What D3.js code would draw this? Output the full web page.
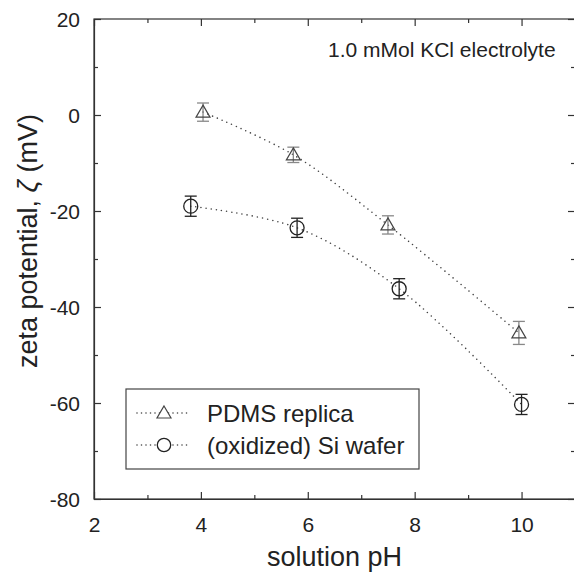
<!DOCTYPE html>
<html>
<head>
<meta charset="utf-8">
<script src="https://cdn.jsdelivr.net/npm/d3@7"></script>
<style>
  body { margin: 0; background: #fff; }
  svg { display: block; font-family: "Liberation Sans", Arial, sans-serif; }
  .axis path, .axis line { stroke: #333; stroke-width: 1.2; }
  .axis text { fill: #222; font-size: 21px; }
</style>
</head>
<body>
<div id="chart"></div>
<script>
// data
const phPdms   = [4.04, 5.73, 7.50, 9.95];
const zetaPdms = [0.6, -8.3, -22.9, -45.4];
const errPdms  = [1.9, 1.6, 1.9, 2.4];

const phSi   = [3.81, 5.80, 7.71, 10.0];
const zetaSi = [-19.0, -23.5, -36.2, -60.3];
const errSi  = [2.1, 2.0, 2.1, 2.1];

const xMajor = [2, 4, 6, 8, 10];
const xMinor = [3, 5, 7, 9, 11];
const yMajor = [-80, -60, -40, -20, 0, 20];
const yMinor = [-70, -50, -30, -10, 10];

const seriesNames = ["PDMS replica", "(oxidized) Si wafer"];
const note = "1.0 mMol KCl electrolyte";

const W = 574, H = 579;
const mLeft = 94, mRight = 575, mTop = 19, mBottom = 499;

var svg = d3.select("#chart").append("svg")
  .attr("width", W).attr("height", H);

var xScale = d3.scaleLinear().domain([2, 11]).range([mLeft, mRight]);
var yScale = d3.scaleLinear().domain([-80, 20]).range([mBottom, mTop]);

// axes, ticks point inward
function addAxis(axisFn, scale, ticks, size, tx, ty, labels) {
  var g = svg.append("g")
    .attr("class", "axis")
    .attr("transform", `translate(${tx},${ty})`)
    .call(axisFn(scale).tickValues(ticks).tickSizeInner(-size).tickSizeOuter(0)
      .tickPadding(labels ? 12 : 0)
      .tickFormat(labels ? (d => String(d)) : ""));   // plain hyphen minus
  if (!labels) g.select(".domain").remove();
  return g;
}
var xAx = addAxis(d3.axisBottom, xScale, xMajor, 7, 0, mBottom, true);
addAxis(d3.axisBottom, xScale, xMinor, 4, 0, mBottom, false);
addAxis(d3.axisTop, xScale, xMajor, 7, 0, mTop, false);
addAxis(d3.axisTop, xScale, xMinor, 4, 0, mTop, false);
var yAx = addAxis(d3.axisLeft, yScale, yMajor, 7, mLeft, 0, true);
addAxis(d3.axisLeft, yScale, yMinor, 4, mLeft, 0, false);
addAxis(d3.axisRight, yScale, yMajor, 7, mRight, 0, false);
addAxis(d3.axisRight, yScale, yMinor, 4, mRight, 0, false);

xAx.selectAll("text").attr("y", 33).attr("dy", null);
yAx.selectAll("text").attr("x", -14).attr("dy", "0.36em");

// frame
svg.append("rect")
  .attr("x", mLeft).attr("y", mTop)
  .attr("width", mRight - mLeft).attr("height", mBottom - mTop)
  .attr("fill", "none").attr("stroke", "#333").attr("stroke-width", 1.2);

// axis titles
svg.append("text")
  .attr("x", (mLeft + mRight) / 2).attr("y", 566)
  .attr("text-anchor", "middle")
  .attr("font-size", 27).attr("fill", "#222")
  .text("solution pH");

var yt = svg.append("text")
  .attr("transform", `translate(37,${(mTop + mBottom) / 2 - 18}) rotate(-90)`)
  .attr("text-anchor", "middle")
  .attr("font-size", 27).attr("fill", "#222");
yt.append("tspan").text("zeta potential, ");
yt.append("tspan").attr("font-style", "italic").text("ζ");
yt.append("tspan").text(" (mV)");

svg.append("text")
  .attr("x", 328).attr("y", 57)
  .attr("font-size", 21).attr("fill", "#222")
  .text(note);

var pdms = phPdms.map((p, i) => ({x: p, y: zetaPdms[i], e: errPdms[i]}));
var si = phSi.map((p, i) => ({x: p, y: zetaSi[i], e: errSi[i]}));

var line = d3.line()
  .x(d => xScale(d.x)).y(d => yScale(d.y))
  .curve(d3.curveCatmullRom.alpha(0.5));

function dotted(sel) {
  return sel.attr("fill", "none").attr("stroke", "#444")
    .attr("stroke-width", 1.6).attr("stroke-linecap", "round")
    .attr("stroke-dasharray", "0 5.2");
}

svg.append("path").datum(pdms).attr("d", line).call(dotted);
svg.append("path").datum(si).attr("d", line).call(dotted);

const triangle = "M0,-7L7,5L-7,5Z";

function errorBars(data, color) {
  var g = svg.append("g").attr("stroke", color).attr("stroke-width", 1.3);
  g.selectAll(".v").data(data).enter().append("line")
    .attr("x1", d => xScale(d.x)).attr("x2", d => xScale(d.x))
    .attr("y1", d => yScale(d.y + d.e)).attr("y2", d => yScale(d.y - d.e));
  [1, -1].forEach(s => {
    g.selectAll(".c" + s).data(data).enter().append("line")
      .attr("x1", d => xScale(d.x) - 6).attr("x2", d => xScale(d.x) + 6)
      .attr("y1", d => yScale(d.y + s * d.e)).attr("y2", d => yScale(d.y + s * d.e));
  });
}
errorBars(pdms, "#888");
errorBars(si, "#222");

svg.selectAll(".tri").data(pdms).enter().append("path")
  .attr("d", triangle)
  .attr("transform", d => `translate(${xScale(d.x)},${yScale(d.y)})`)
  .attr("fill", "none").attr("stroke", "#444").attr("stroke-width", 1.2);

svg.selectAll(".circ").data(si).enter().append("circle")
  .attr("cx", d => xScale(d.x)).attr("cy", d => yScale(d.y)).attr("r", 7)
  .attr("fill", "none").attr("stroke", "#222").attr("stroke-width", 1.3);

// legend
var lg = svg.append("g");
lg.append("rect")
  .attr("x", 126).attr("y", 389).attr("width", 293).attr("height", 80)
  .attr("fill", "#fff").attr("stroke", "#444").attr("stroke-width", 1.2);
[413, 445].forEach((ly, i) => {
  lg.append("line").attr("x1", 137).attr("x2", 190).attr("y1", ly).attr("y2", ly).call(dotted)
    .attr("stroke-dasharray", "0 4.5");
  if (i === 0) {
    lg.append("path").attr("d", triangle)
      .attr("transform", `translate(164,${ly})`)
      .attr("fill", "#fff").attr("stroke", "#444").attr("stroke-width", 1.2);
  } else {
    lg.append("circle").attr("cx", 164).attr("cy", ly).attr("r", 6.7)
      .attr("fill", "#fff").attr("stroke", "#222").attr("stroke-width", 1.3);
  }
  lg.append("text").attr("x", 207).attr("y", ly + 9)
    .attr("font-size", 24).attr("fill", "#222")
    .text(seriesNames[i]);
});
</script>
</body>
</html>
